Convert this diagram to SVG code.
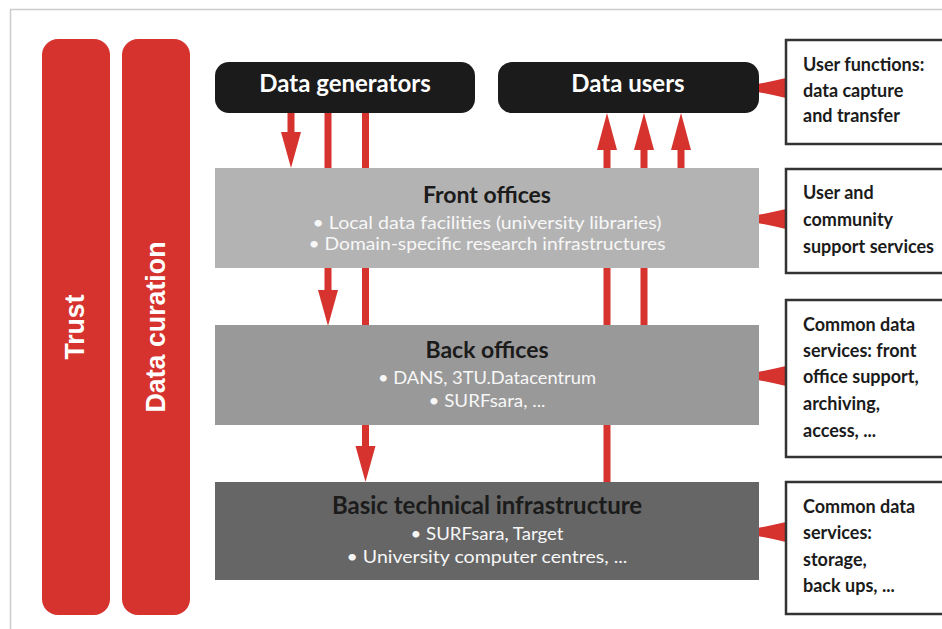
<svg xmlns="http://www.w3.org/2000/svg" width="942" height="629" viewBox="0 0 942 629">
<defs>
<style>
.bar{fill:#d6322e}
.bartxt{font-family:"Liberation Sans",Arial,sans-serif;font-weight:bold;font-size:28px;fill:#ffffff;text-anchor:middle}
.blk{fill:#1b1b1b}
.t-white{font-family:Lato,"Liberation Sans",sans-serif;font-weight:bold;font-size:24px;fill:#ffffff;text-anchor:middle}
.t-dark{font-family:Lato,"Liberation Sans",sans-serif;font-weight:bold;font-size:23px;fill:#1b1b1b;text-anchor:middle}
.bul{font-family:Lato,"Liberation Sans",sans-serif;font-size:18px;fill:#f7f7f7;text-anchor:middle}
.side{fill:#ffffff;stroke:#333333;stroke-width:2.5}
.stxt{font-family:Lato,"Liberation Sans",sans-serif;font-weight:bold;font-size:18px;fill:#1b1b1b}
.line{stroke:#d6322e;stroke-width:7;fill:none}
.head{fill:#d6322e}
.wedge{fill:#d6322e}
</style>
</defs>
<rect width="942" height="629" fill="#ffffff"/>
<path d="M10.5 629 V9.5 H942" fill="none" stroke="#cccccc" stroke-width="1.5"/>

<g id="trust">
<rect class="bar" x="42" y="39" width="68" height="576" rx="16"/>
<text class="bartxt" transform="translate(76,327) rotate(-90)" y="8" textLength="65" lengthAdjust="spacingAndGlyphs">Trust</text>
</g>
<g id="data-curation">
<rect class="bar" x="122" y="39" width="68" height="576" rx="16"/>
<text class="bartxt" transform="translate(156,327) rotate(-90)" y="9" textLength="171" lengthAdjust="spacingAndGlyphs">Data curation</text>
</g>

<g id="connectors">
<line class="line" x1="291" y1="112" x2="291" y2="135"/>
<polygon class="head" points="281,132 301,132 291,168"/>
<line class="line" x1="328" y1="112" x2="328" y2="295"/>
<polygon class="head" points="318,290 338,290 328,326"/>
<line class="line" x1="365.5" y1="112" x2="365.5" y2="450"/>
<polygon class="head" points="355.5,446 375.5,446 365.5,482"/>
<line class="line" x1="607" y1="482" x2="607" y2="145"/>
<polygon class="head" points="597,150 617,150 607,113"/>
<line class="line" x1="644" y1="326" x2="644" y2="145"/>
<polygon class="head" points="634,150 654,150 644,113"/>
<line class="line" x1="681" y1="168" x2="681" y2="145"/>
<polygon class="head" points="671,150 691,150 681,113"/>
<path class="wedge" d="M786,78 Q752,86 730,88 Q752,90 786,98 Z"/>
<path class="wedge" d="M786,209 Q752,217 730,219 Q752,221 786,229 Z"/>
<path class="wedge" d="M786,366 Q752,374 730,376 Q752,378 786,386 Z"/>
<path class="wedge" d="M786,522 Q752,530 730,532 Q752,534 786,542 Z"/>
</g>

<g id="data-generators">
<rect class="blk" x="215" y="62" width="260" height="51" rx="14"/>
<text class="t-white" x="345" y="92">Data generators</text>
</g>
<g id="data-users">
<rect class="blk" x="498" y="62" width="261" height="51" rx="14"/>
<text class="t-white" x="628" y="92">Data users</text>
</g>

<g id="front-offices">
<rect x="215" y="168" width="544" height="100" fill="#b3b3b3"/>
<text class="t-dark" x="487" y="203">Front offices</text>
<text class="bul" x="487" y="229" textLength="349" lengthAdjust="spacingAndGlyphs">• Local data facilities (university libraries)</text>
<text class="bul" x="487" y="250" textLength="357" lengthAdjust="spacingAndGlyphs">• Domain-specific research infrastructures</text>
</g>
<g id="back-offices">
<rect x="215" y="325" width="544" height="100" fill="#999999"/>
<text class="t-dark" x="487" y="358">Back offices</text>
<text class="bul" x="487" y="384" textLength="218" lengthAdjust="spacingAndGlyphs">• DANS, 3TU.Datacentrum</text>
<text class="bul" x="487" y="407" textLength="117" lengthAdjust="spacingAndGlyphs">• SURFsara, ...</text>
</g>
<g id="basic-infrastructure">
<rect x="215" y="482" width="544" height="98" fill="#666666"/>
<text class="t-dark" x="487" y="514" style="font-size:24px">Basic technical infrastructure</text>
<text class="bul" x="487" y="540" textLength="153" lengthAdjust="spacingAndGlyphs">• SURFsara, Target</text>
<text class="bul" x="487" y="563" textLength="281" lengthAdjust="spacingAndGlyphs">• University computer centres, ...</text>
</g>

<g id="user-functions">
<rect class="side" x="786" y="40" width="170" height="104"/>
<text class="stxt" x="803" y="71">User functions:</text>
<text class="stxt" x="803" y="97">data capture</text>
<text class="stxt" x="803" y="122">and transfer</text>
</g>
<g id="user-community-support">
<rect class="side" x="786" y="169" width="170" height="104"/>
<text class="stxt" x="803" y="199">User and</text>
<text class="stxt" x="803" y="226">community</text>
<text class="stxt" x="803" y="253">support services</text>
</g>
<g id="common-front-office">
<rect class="side" x="786" y="300" width="170" height="157"/>
<text class="stxt" x="803" y="331">Common data</text>
<text class="stxt" x="803" y="357">services: front</text>
<text class="stxt" x="803" y="383">office support,</text>
<text class="stxt" x="803" y="410">archiving,</text>
<text class="stxt" x="803" y="437">access, ...</text>
</g>
<g id="common-storage">
<rect class="side" x="786" y="482" width="170" height="132"/>
<text class="stxt" x="803" y="513">Common data</text>
<text class="stxt" x="803" y="539">services:</text>
<text class="stxt" x="803" y="566">storage,</text>
<text class="stxt" x="803" y="592">back ups, ...</text>
</g>
</svg>
